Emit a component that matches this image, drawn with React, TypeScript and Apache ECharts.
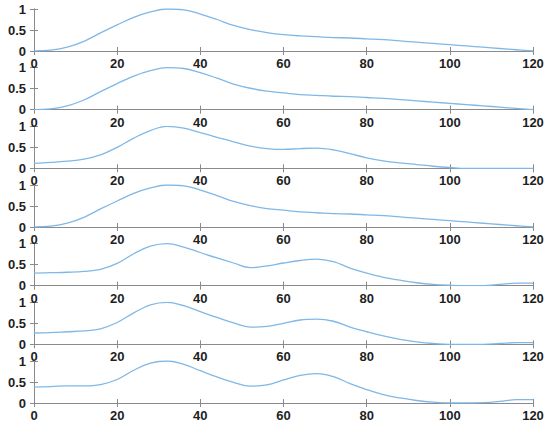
import React, { useEffect, useRef } from "react";
import * as echarts from "echarts";

const xs = [0, 4, 8, 12, 16, 20, 24, 28, 32, 36, 40, 44, 48, 52, 56, 60, 64, 68, 72, 76, 80, 84, 88, 92, 96, 100, 104, 108, 112, 116, 120];

const s1 = [0, 0.02, 0.09, 0.23, 0.43, 0.62, 0.8, 0.93, 1.0, 0.98, 0.88, 0.75, 0.61, 0.51, 0.44, 0.39, 0.36, 0.34, 0.32, 0.31, 0.29, 0.27, 0.24, 0.21, 0.18, 0.15, 0.12, 0.09, 0.06, 0.03, 0.0];
const s2 = [0, 0.02, 0.09, 0.23, 0.43, 0.62, 0.8, 0.93, 1.0, 0.98, 0.88, 0.75, 0.61, 0.51, 0.44, 0.4, 0.36, 0.34, 0.32, 0.31, 0.29, 0.27, 0.24, 0.21, 0.18, 0.15, 0.12, 0.09, 0.06, 0.03, 0.0];
const s3 = [0.12, 0.14, 0.17, 0.22, 0.32, 0.5, 0.72, 0.9, 1.0, 0.96, 0.85, 0.74, 0.63, 0.53, 0.47, 0.45, 0.47, 0.48, 0.44, 0.35, 0.25, 0.18, 0.13, 0.09, 0.05, 0.02, 0.0, 0.0, 0.0, 0.0, 0.0];
const s4 = [0, 0.02, 0.09, 0.23, 0.43, 0.62, 0.8, 0.93, 1.0, 0.98, 0.88, 0.75, 0.61, 0.51, 0.44, 0.4, 0.36, 0.34, 0.32, 0.31, 0.29, 0.27, 0.24, 0.21, 0.18, 0.15, 0.12, 0.09, 0.06, 0.03, 0.0];
const s5 = [0.3, 0.31, 0.32, 0.34, 0.39, 0.53, 0.76, 0.94, 1.0, 0.92, 0.79, 0.66, 0.54, 0.43, 0.47, 0.54, 0.6, 0.63, 0.57, 0.42, 0.3, 0.2, 0.13, 0.07, 0.03, 0.01, 0.0, 0.0, 0.03, 0.06, 0.06];
const s6 = [0.27, 0.28, 0.3, 0.32, 0.37, 0.52, 0.75, 0.94, 1.0, 0.92, 0.78, 0.64, 0.51, 0.41, 0.43, 0.5, 0.58, 0.6, 0.55, 0.41, 0.3, 0.2, 0.12, 0.06, 0.02, 0.0, 0.0, 0.0, 0.02, 0.04, 0.04];
const s7 = [0.38, 0.39, 0.41, 0.41, 0.44, 0.56, 0.78, 0.95, 1.0, 0.92, 0.77, 0.62, 0.49, 0.4, 0.43, 0.55, 0.66, 0.7, 0.63, 0.46, 0.32, 0.2, 0.12, 0.06, 0.02, 0.0, 0.0, 0.01, 0.04, 0.08, 0.08];

const allSeries = [s1, s2, s3, s4, s5, s6, s7];
const xTicks = [0, 20, 40, 60, 80, 100, 120];
const yTicks = [0, 0.5, 1];

export default function App() {
  const ref = useRef<HTMLDivElement>(null);
  useEffect(() => {
    if (!ref.current) return;
    const chart = echarts.init(ref.current, null, { renderer: "svg" });
    const axisColor = "#8a8a8a";
    const labelStyle = {
      fontFamily: "Liberation Sans",
      fontWeight: "bold" as const,
      fontSize: 13,
      color: "#1e1e1e",
    };
    const grids: any[] = [];
    const xAxes: any[] = [];
    const yAxes: any[] = [];
    const series: any[] = [];
    allSeries.forEach((s, i) => {
      const top = 9 + i * 58.67;
      grids.push({ left: 34, width: 499, top, height: 42 });
      const common = {
        gridIndex: i,
        type: "value",
        axisLine: { show: true, lineStyle: { color: axisColor, width: 1 } },
        axisTick: { show: true, inside: true, length: 4, lineStyle: { color: axisColor } },
        splitLine: { show: false },
      };
      xAxes.push({
        ...common,
        position: "bottom",
        min: xTicks[0],
        max: xTicks[xTicks.length - 1],
        interval: 20,
        axisLabel: { ...labelStyle, margin: 6 },
      });
      xAxes.push({
        ...common,
        position: "top",
        min: xTicks[0],
        max: xTicks[xTicks.length - 1],
        interval: 20,
        axisLabel: { show: false },
      });
      yAxes.push({
        ...common,
        position: "left",
        min: yTicks[0],
        max: yTicks[yTicks.length - 1],
        interval: 0.5,
        axisLabel: {
          ...labelStyle,
          margin: 8,
          formatter: (v: number) => (v === 0.5 ? "0.5" : String(v)),
        },
      });
      yAxes.push({
        ...common,
        position: "right",
        min: yTicks[0],
        max: yTicks[yTicks.length - 1],
        interval: 0.5,
        axisLabel: { show: false },
      });
      series.push({
        type: "line",
        xAxisIndex: i * 2,
        yAxisIndex: i * 2,
        data: xs.map((x, k) => [x, s[k]]),
        smooth: 0.4,
        showSymbol: false,
        lineStyle: { color: "#7fb8e6", width: 1.3 },
        z: 3,
      });
    });
    chart.setOption({
      animation: false,
      backgroundColor: "#ffffff",
      grid: grids,
      xAxis: xAxes,
      yAxis: yAxes,
      series,
    });
    return () => chart.dispose();
  }, []);
  return <div ref={ref} style={{ width: 550, height: 428, position: "absolute", left: 0, top: 0 }} />;
}
